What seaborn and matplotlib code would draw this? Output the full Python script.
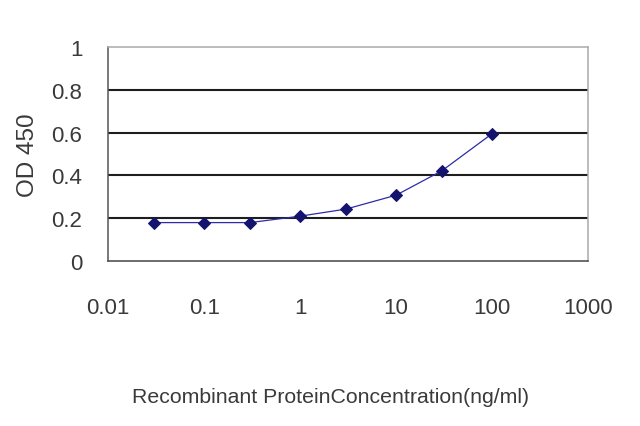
import matplotlib
matplotlib.use("Agg")
import matplotlib.pyplot as plt
from matplotlib.ticker import FixedLocator, FixedFormatter, NullLocator
import seaborn as sns
import pandas as pd

# concentration (ng/ml) and OD450
conc = [0.03, 0.1, 0.3, 1, 3, 10, 30, 100]
od450 = [0.18, 0.18, 0.18, 0.21, 0.243, 0.308, 0.422, 0.595]

x_ticks = [0.01, 0.1, 1, 10, 100, 1000]
x_tick_labels = ["0.01", "0.1", "1", "10", "100", "1000"]
y_ticks = [0, 0.2, 0.4, 0.6, 0.8, 1]
y_tick_labels = ["0", "0.2", "0.4", "0.6", "0.8", "1"]

df = pd.DataFrame({"conc": conc, "od": od450})

sns.set_style("white")
plt.rcParams['font.family'] = ['Liberation Sans', 'DejaVu Sans']

fig = plt.figure(figsize=(6.4, 4.27), dpi=100)
ax = fig.add_axes([0.169, 0.386, 0.75, 0.502])

text_col = "#3a3a3a"
line_col = "#2c2ca8"

sns.lineplot(data=df, x="conc", y="od", ax=ax, color=line_col, linewidth=0.9,
             marker="D", markersize=6, markeredgecolor="#14146e", markerfacecolor="#14146e")

ax.set_xscale("log")
ax.set_xlim(0.01, 1000)
ax.set_ylim(0, 1)

for yv in y_ticks[1:-1]:
    ax.axhline(yv, color="#1e1e1e", linewidth=1.5, zorder=0)

ax.xaxis.set_major_locator(FixedLocator(x_ticks))
ax.xaxis.set_major_formatter(FixedFormatter(x_tick_labels))
ax.xaxis.set_minor_locator(NullLocator())
ax.yaxis.set_major_locator(FixedLocator(y_ticks))
ax.yaxis.set_major_formatter(FixedFormatter(y_tick_labels))

ax.tick_params(axis="x", direction="in", length=4, width=1, colors="#555555",
               labelcolor=text_col, labelsize=16, pad=26)
ax.tick_params(axis="y", direction="out", length=0, labelcolor=text_col, labelsize=16, pad=18.5)

for side, sp in ax.spines.items():
    sp.set_visible(True)
    sp.set_linewidth(1.1)
    sp.set_color("#aaaaaa")
ax.spines["left"].set_color("#555555")
ax.spines["bottom"].set_color("#444444")

ax.set_xlabel("Recombinant ProteinConcentration(ng/ml)", fontsize=15.3, color=text_col)
ax.set_ylabel("OD 450", fontsize=17.5, color=text_col)
ax.xaxis.set_label_coords(0.4625, -0.585)
ax.yaxis.set_label_coords(-0.145, 0.5)

fig.savefig("out.png", dpi=100)
